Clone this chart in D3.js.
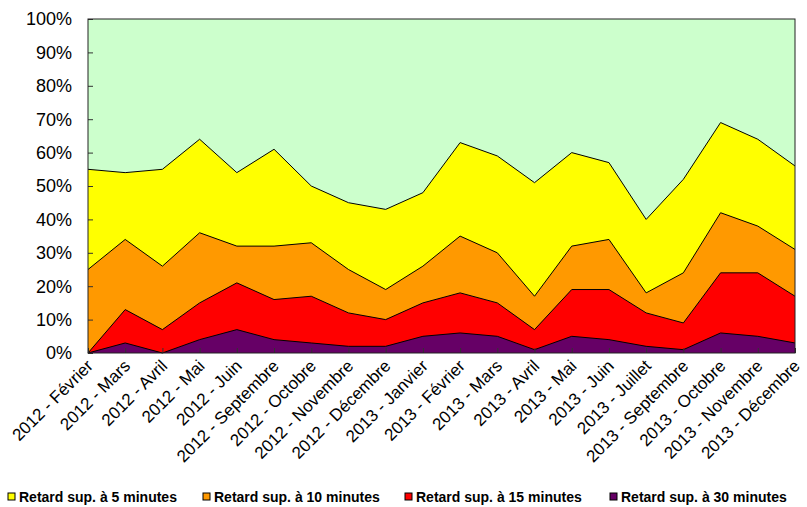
<!DOCTYPE html>
<html>
<head>
<meta charset="utf-8">
<script src="https://cdn.jsdelivr.net/npm/d3@7"></script>
<style>
body { margin: 0; background: #fff; }
text { font-family: "Liberation Sans", Arial, sans-serif; fill: #000; }
</style>
</head>
<body>
<div id="chart"></div>
<script>
// data (cumulative share of trains late by more than X minutes)
var months = ['2012 - Février','2012 - Mars','2012 - Avril','2012 - Mai','2012 - Juin',
  '2012 - Septembre','2012 - Octobre','2012 - Novembre','2012 - Décembre',
  '2013 - Janvier','2013 - Février','2013 - Mars','2013 - Avril','2013 - Mai',
  '2013 - Juin','2013 - Juillet','2013 - Septembre','2013 - Octobre',
  '2013 - Novembre','2013 - Décembre'];

var sup5  = [55,54,55,64,54,61,50,45,43,48,63,59,51,60,57,40,52,69,64,56];
var sup10 = [25,34,26,36,32,32,33,25,19,26,35,30,17,32,34,18,24,42,38,31];
var sup15 = [0,13,7,15,21,16,17,12,10,15,18,15,7,19,19,12,9,24,24,17];
var sup30 = [0,3,0,4,7,4,3,2,2,5,6,5,1,5,4,2,1,6,5,3];

var yTicks = [0,10,20,30,40,50,60,70,80,90,100];

var seriesNames = ['Retard sup. à 5 minutes','Retard sup. à 10 minutes',
  'Retard sup. à 15 minutes','Retard sup. à 30 minutes'];
var seriesColors = ['#ffff00','#ff9900','#ff0000','#660066'];

//margins
var svgWidth = 807,
svgHeight = 507;

var margin = {t:19, r:12, b:154, l:88};

var width = svgWidth - margin.l - margin.r,
height = svgHeight - margin.t - margin.b;

var svg = d3.select('#chart')
  .append('svg')
  .attr('width', svgWidth)
  .attr('height', svgHeight);

var chart = svg.append('g')
  .attr('transform', `translate(${margin.l},${margin.t})`);

var xScale = d3.scalePoint()
  .domain(months)
  .range([0, width]);

var yScale = d3.scaleLinear()
  .domain([0, 100])
  .range([height, 0]);

// background = rest of trains (on time)
chart.append('rect')
  .attr('width', width)
  .attr('height', height)
  .attr('fill', '#ccffcc');

var series = [sup5, sup10, sup15, sup30];

var area = d3.area()
  .x((d, i) => xScale(months[i]))
  .y0(height)
  .y1(d => yScale(d));

var line = d3.line()
  .x((d, i) => xScale(months[i]))
  .y(d => yScale(d));

series.forEach((s, k) => {
  chart.append('path')
    .datum(s)
    .attr('d', area)
    .attr('fill', seriesColors[k]);
  chart.append('path')
    .datum(s)
    .attr('d', line)
    .attr('fill', 'none')
    .attr('stroke', '#000')
    .attr('stroke-width', 1);
});

// y axis, ticks pointing inward
var yAxis = chart.append('g')
  .call(d3.axisRight(yScale).tickValues(yTicks).tickSize(5).tickFormat(''));
yAxis.select('.domain').remove();
yAxis.selectAll('line').attr('stroke', '#333');

chart.selectAll('.ylab')
  .data(yTicks)
  .enter()
  .append('text')
  .attr('class', 'ylab')
  .attr('x', -16)
  .attr('y', d => yScale(d))
  .attr('dy', '0.36em')
  .attr('text-anchor', 'end')
  .style('font-size', '18px')
  .text(d => d + '%');

// x axis ticks inward
var xAxis = chart.append('g')
  .attr('transform', `translate(0,${height})`)
  .call(d3.axisTop(xScale).tickSize(5).tickFormat(''));
xAxis.select('.domain').remove();
xAxis.selectAll('line').attr('stroke', '#333');

chart.selectAll('.xlab')
  .data(months)
  .enter()
  .append('text')
  .attr('class', 'xlab')
  .attr('transform', d => `translate(${xScale(d) + 6},${height + 14})rotate(-45)`)
  .attr('text-anchor', 'end')
  .style('font-size', '17px')
  .text(d => d);

// frame
chart.append('rect')
  .attr('width', width)
  .attr('height', height)
  .attr('fill', 'none')
  .attr('stroke', '#222')
  .attr('stroke-width', 1);

// legend
var legendX = [8, 203, 405, 610];
var legend = svg.selectAll('.leg')
  .data(seriesNames)
  .enter()
  .append('g')
  .attr('class', 'leg')
  .attr('transform', (d, i) => `translate(${legendX[i]},493)`);

legend.append('rect')
  .attr('width', 7)
  .attr('height', 7)
  .attr('fill', (d, i) => seriesColors[i])
  .attr('stroke', '#000')
  .attr('stroke-width', 1);

legend.append('text')
  .attr('x', 11)
  .attr('y', 8.5)
  .style('font-size', '14px')
  .style('font-weight', 'bold')
  .text(d => d);
</script>
</body>
</html>
